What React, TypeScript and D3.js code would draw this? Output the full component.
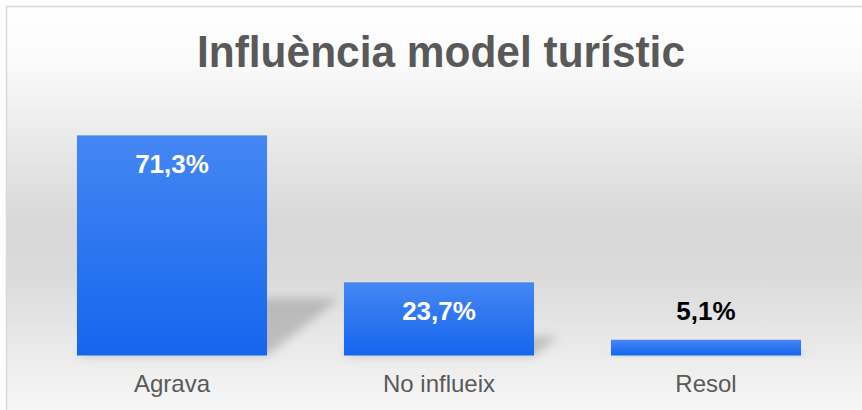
import React from "react";
import * as d3 from "d3";

const categories = ["Agrava", "No influeix", "Resol"];
const values = [71.3, 23.7, 5.1];
const valueLabels = ["71,3%", "23,7%", "5,1%"];
const title = "Influència model turístic";

const W = 862;
const H = 410;

export default function App() {
  const x = d3.scaleBand<string>().domain(categories).range([38.5, 839.5]).paddingInner(0.288).paddingOuter(0.144);
  const y = d3.scaleLinear().domain([0, 80]).range([355.5, 108.5]);
  const bw = x.bandwidth();
  return (
    <svg width={W} height={H} style={{ position: "absolute", left: 0, top: 0 }} xmlns="http://www.w3.org/2000/svg">
      <defs>
        <linearGradient id="bg" x1="0" y1="0" x2="0" y2="1" gradientUnits="objectBoundingBox">
          <stop offset="0" stopColor="#ffffff" />
          <stop offset="0.12" stopColor="#fbfbfb" />
          <stop offset="0.5" stopColor="#d8d8d8" />
          <stop offset="0.62" stopColor="#dadada" />
          <stop offset="0.85" stopColor="#efefef" />
          <stop offset="1" stopColor="#fcfcfc" />
        </linearGradient>
        <linearGradient id="bar" x1="0" y1="0" x2="0" y2="1">
          <stop offset="0" stopColor="#4587f3" />
          <stop offset="1" stopColor="#1565ee" />
        </linearGradient>
        <filter id="blur" x="-50%" y="-50%" width="200%" height="200%">
          <feGaussianBlur stdDeviation="5" />
        </filter>
      </defs>
      <rect x={0} y={0} width={W} height={H} fill="#ffffff" />
      <rect x={6.5} y={6.5} width={W + 20} height={H + 20} fill="url(#bg)" stroke="#d9d9d9" strokeWidth={1.5} />
      <text x={441} y={67} textAnchor="middle" fontFamily="'Liberation Sans', Arial, sans-serif" fontWeight="bold" fontSize={44} fill="#595959" textLength={488} lengthAdjust="spacingAndGlyphs">
        {title}
      </text>
      {categories.map((c, i) => {
        const x0 = x(c) as number;
        const top = y(values[i]);
        const bottom = y(0);
        const h = bottom - top;
        const dx = h * 0.33;
        const dy = h * 0.26;
        const pts = [
          [x0, bottom],
          [x0 + bw, bottom],
          [x0 + bw + dx, bottom - dy],
          [x0 + dx, bottom - dy],
        ];
        return (
          <polygon key={"s" + c} points={pts.map((p) => p.join(",")).join(" ")} fill="#8a8a8a" opacity={0.45} filter="url(#blur)" />
        );
      })}
      {categories.map((c, i) => {
        const x0 = x(c) as number;
        const top = y(values[i]);
        const bottom = y(0);
        return <rect key={"b" + c} x={x0} y={top} width={bw} height={bottom - top} fill="url(#bar)" />;
      })}
      {categories.map((c, i) => {
        const x0 = x(c) as number;
        const top = y(values[i]);
        const inside = y(0) - top > 50;
        return (
          <text key={"v" + c} x={x0 + bw / 2} y={inside ? top + 38 : top - 20} textAnchor="middle" fontFamily="'Liberation Sans', Arial, sans-serif" fontWeight="bold" fontSize={26} fill={inside ? "#ffffff" : "#000000"}>
            {valueLabels[i]}
          </text>
        );
      })}
      {categories.map((c) => {
        const x0 = x(c) as number;
        return (
          <text key={"l" + c} x={x0 + bw / 2} y={392} textAnchor="middle" fontFamily="'Liberation Sans', Arial, sans-serif" fontSize={24} fill="#595959">
            {c}
          </text>
        );
      })}
    </svg>
  );
}
